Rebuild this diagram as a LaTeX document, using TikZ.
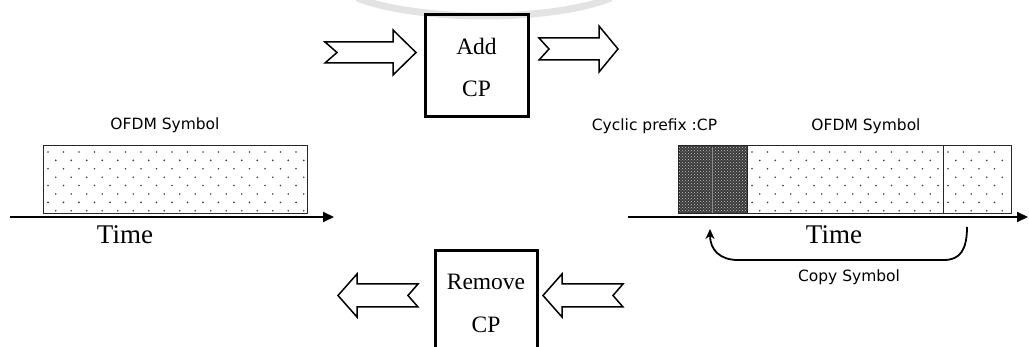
\documentclass[tikz,border=0pt]{standalone}
\usepackage{fontspec}
\setmainfont{Liberation Serif}
\newfontfamily\lblfont{DejaVu Sans}
\usetikzlibrary{arrows.meta,patterns}

\newcommand\mydots[4]{%
  \foreach \r in {0,...,7}{%
    \pgfmathsetmacro\yy{#2+6+8.4*\r}%
    \pgfmathsetmacro\xa{#1+5+mod(\r,2)*7.75}%
    \pgfmathsetmacro\xb{\xa+15.5}%
    \pgfmathsetmacro\xe{#3-3}%
    \foreach \xx in {\xa,\xb,...,\xe}{\fill[black!75] (\xx,\yy) circle[radius=0.9pt];}%
  }}

\begin{document}
\begin{tikzpicture}[x=1pt,y=-1pt,
  procbox/.style={line width=3pt},
  serif/.style={font=\fontsize{23.5}{28}\selectfont, inner sep=0pt, anchor=base},
  timefont/.style={font=\fontsize{27}{32}\selectfont, inner sep=0pt, anchor=base},
  lbl/.style={font=\lblfont\fontsize{15.5}{18}\selectfont, inner sep=0pt, anchor=base},
  blockarr/.style={draw, line width=1.5pt, fill=white, line join=miter},
  axis/.style={line width=2pt, -{Triangle[length=11pt,width=10pt]}},
  symrect/.style={draw=black!85, line width=1pt},
  copyarr/.style={line width=1.8pt, -{Stealth[length=10pt,width=9pt]}}]

\useasboundingbox (0,0) rectangle (1029,347);

% faint watermark arc
\draw[gray!22, line width=7pt] (357,-2) .. controls (420,22) and (550,22) .. (611,-2);

% ---- Add CP block
\draw[procbox] (425,15) rectangle (528,117);
\node[serif] (add) at (476.5,55) {Add};
\node[serif] (addcp) at (476.5,97) {CP};

% top block arrows (pointing right)
\draw[blockarr] (325,42) -- (393,42) -- (393,30) -- (416,52.5) -- (393,75) -- (393,63) -- (325,63) -- (337,52.5) -- cycle;
\draw[blockarr] (539,38) -- (599,38) -- (599,26) -- (618,49) -- (599,72) -- (599,60) -- (539,60) -- (549,49) -- cycle;

% ---- Remove CP block (open at the bottom edge)
\draw[procbox] (435,350) -- (435,251) -- (537,251) -- (537,350);
\node[serif] (rem) at (486,290) {Remove};
\node[serif] (remcp) at (486,333) {CP};

% bottom block arrows (pointing left)
\draw[blockarr] (418,284) -- (357,284) -- (357,274) -- (338,295.5) -- (357,317) -- (357,307) -- (418,307) -- (408,295.5) -- cycle;
\draw[blockarr] (623,284) -- (562,284) -- (562,274) -- (543,295.5) -- (562,317) -- (562,307) -- (623,307) -- (613,295.5) -- cycle;

% ---- left OFDM symbol
\mydots{43}{146}{307}{214}
\draw[symrect] (43,146) rectangle (307,214);
\node[lbl] (lofdm) at (165,130) {OFDM Symbol};
\coordinate (la) at (10,217);
\coordinate (lb) at (334,217);
\draw[axis] (la) -- (lb);
\node[timefont] (ltime) at (125,244) {Time};

% ---- right: cyclic prefix + OFDM symbol
\fill[black!78] (678,146) rectangle (747,214);
\fill[pattern=crosshatch dots, pattern color=white!80!black] (678,146) rectangle (747,214);
\draw[black!45, line width=0.5pt] (712,147) -- (712,213);
\draw[symrect] (678,146) rectangle (747,214);
\mydots{747}{146}{943}{214}
\mydots{943}{146}{1011}{214}
\draw[symrect] (747,146) rectangle (943,214);
\draw[symrect] (943,146) rectangle (1011,214);
\node[lbl] (cplbl) at (654.5,131) {Cyclic prefix :CP};
\node[lbl] (rofdm) at (866,131) {OFDM Symbol};
\coordinate (ra) at (628,217);
\coordinate (rb) at (1028,217);
\draw[axis] (ra) -- (rb);
\node[timefont] (rtime) at (834,244) {Time};

% copy arrow
\coordinate (cs) at (967,227);
\coordinate (ce) at (710,229);
\draw[copyarr] (cs) .. controls (967,250) and (960,260) .. (944,260) -- (738,260) .. controls (720,260) and (710,250) .. (ce);
\node[lbl] (copy) at (849,282) {Copy Symbol};

\end{tikzpicture}
\end{document}
